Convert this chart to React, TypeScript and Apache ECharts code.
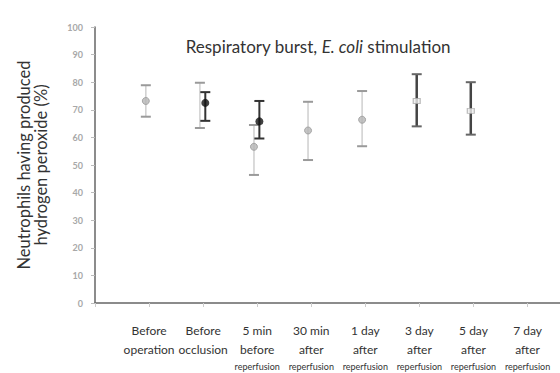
import React, { useEffect, useRef } from "react";
import * as echarts from "echarts";

const categories = [
  "Before\noperation",
  "Before\nocclusion",
  "5 min\nbefore\n{s|reperfusion}",
  "30 min\nafter\n{s|reperfusion}",
  "1 day\nafter\n{s|reperfusion}",
  "3 day\nafter\n{s|reperfusion}",
  "5 day\nafter\n{s|reperfusion}",
  "7 day\nafter\n{s|reperfusion}",
];
const yTicks = [0, 10, 20, 30, 40, 50, 60, 70, 80, 90, 100];

// light grey group
const grayMean = [73.2, null, 56.6, 62.5, 66.4, null, null, null];
const grayLow = [67.5, 63.4, 46.4, 51.8, 56.8, null, null, null];
const grayHigh = [78.9, 79.8, 64.5, 72.9, 76.8, null, null, null];
// black group
const blackMean = [null, 72.5, 65.8, null, null, null, null, null];
const blackLow = [null, 66.0, 59.6, null, null, null, null, null];
const blackHigh = [null, 76.4, 73.2, null, null, null, null, null];
// dark bars group
const darkMean = [null, null, null, null, null, 73.2, 69.6, null];
const darkLow = [null, null, null, null, null, 64.0, 61.0, null];
const darkHigh = [null, null, null, null, null, 82.9, 80.0, null];

function errData(low: (number | null)[], high: (number | null)[], off: number) {
  const out: number[][] = [];
  low.forEach((l, i) => {
    const h = high[i];
    if (l != null && h != null) out.push([i + 1 + off, l, h]);
  });
  return out;
}
function meanData(mean: (number | null)[], off: number) {
  const out: number[][] = [];
  mean.forEach((m, i) => {
    if (m != null) out.push([i + 1 + off, m]);
  });
  return out;
}

function errSeries(data: number[][], color: string, capColor: string, lw: number) {
  return {
    type: "custom",
    data,
    z: 2,
    renderItem: (params: any, api: any) => {
      const x = api.value(0);
      const top = api.coord([x, api.value(2)]);
      const bot = api.coord([x, api.value(1)]);
      const hw = 5;
      return {
        type: "group",
        children: [
          { type: "line", shape: { x1: top[0], y1: top[1], x2: bot[0], y2: bot[1] }, style: { stroke: color, lineWidth: lw } },
          { type: "line", shape: { x1: top[0] - hw, y1: top[1], x2: top[0] + hw, y2: top[1] }, style: { stroke: capColor, lineWidth: 2 } },
          { type: "line", shape: { x1: bot[0] - hw, y1: bot[1], x2: bot[0] + hw, y2: bot[1] }, style: { stroke: capColor, lineWidth: 2 } },
        ],
      };
    },
  };
}

export default function App() {
  const ref = useRef<HTMLDivElement>(null);
  useEffect(() => {
    if (!ref.current) return;
    const chart = echarts.init(ref.current, undefined, { renderer: "svg" });
    const labelFont = "Lato, 'Open Sans', sans-serif";
    chart.setOption({
      animation: false,
      backgroundColor: "#ffffff",
      title: {
        text: "Respiratory burst, {i|E. coli} stimulation",
        left: 313,
        top: 33,
        textAlign: "center",
        textStyle: {
          fontFamily: labelFont,
          fontSize: 17,
          fontWeight: "normal",
          color: "#333",
          rich: {
            i: { fontFamily: labelFont, fontSize: 17, fontStyle: "italic", color: "#333" },
          },
        },
      },
      grid: { left: 95, right: 0, top: 27, bottom: 66 },
      xAxis: {
        type: "value",
        min: 0,
        max: 8.6,
        interval: 1,
        splitLine: { show: false },
        axisLine: { show: true, lineStyle: { color: "#666", width: 1.5 } },
        axisTick: { show: true, length: 4, inside: false, lineStyle: { color: "#ccc" } },
        axisLabel: {
          showMaxLabel: false,
          margin: 18,
          fontFamily: labelFont,
          fontSize: 12,
          lineHeight: 19,
          color: "#333",
          verticalAlign: "top",
          formatter: (v: number) => {
            const i = Math.round(v);
            return i >= 1 && i <= 8 ? categories[i - 1] : "";
          },
          rich: { s: { fontFamily: labelFont, fontSize: 9, lineHeight: 14, color: "#333" } },
        },
      },
      yAxis: {
        type: "value",
        min: yTicks[0],
        max: yTicks[yTicks.length - 1],
        interval: 10,
        splitLine: { show: false },
        axisLine: { show: true, lineStyle: { color: "#666", width: 1.5 } },
        axisTick: { show: true, length: 4, lineStyle: { color: "#bbb" } },
        axisLabel: {
          margin: 12,
          fontFamily: labelFont,
          fontSize: 9,
          fontWeight: "bold",
          color: "#a8a8a8",
        },
        name: "Neutrophils having produced\nhydrogen peroxide (%)",
        nameLocation: "middle",
        nameRotate: 90,
        nameGap: 46,
        nameTextStyle: { fontFamily: labelFont, fontSize: 16.5, lineHeight: 17, color: "#333" },
      },
      series: [
        errSeries(errData(grayLow, grayHigh, -0.06), "#cfcfcf", "#9a9a9a", 1.5),
        errSeries(errData(blackLow, blackHigh, 0.04), "#333", "#333", 2),
        errSeries(errData(darkLow, darkHigh, -0.05), "#444", "#666", 2.5),
        {
          type: "scatter",
          data: meanData(grayMean, -0.06),
          symbol: "circle",
          symbolSize: 7,
          itemStyle: { color: "#b5b5b5", borderColor: "#999", borderWidth: 1 },
          z: 3,
        },
        {
          type: "scatter",
          data: meanData(blackMean, 0.04),
          symbol: "circle",
          symbolSize: 8,
          itemStyle: { color: "#111" },
          z: 4,
        },
        {
          type: "scatter",
          data: meanData(darkMean, -0.05),
          symbol: "rect",
          symbolSize: [7, 5],
          itemStyle: { color: "#eee", borderColor: "#aaa", borderWidth: 1 },
          z: 4,
        },
      ],
    });
    return () => chart.dispose();
  }, []);
  return <div ref={ref} style={{ width: 560, height: 373, position: "absolute", left: 0, top: 0 }} />;
}
